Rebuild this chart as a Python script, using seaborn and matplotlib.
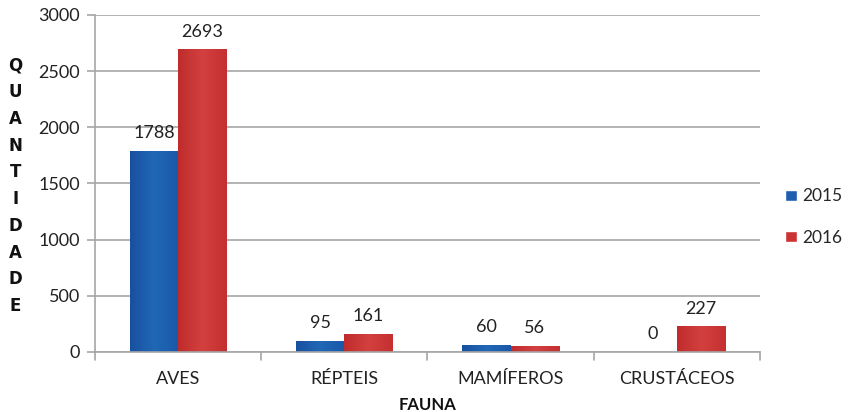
import numpy as np
import pandas as pd
import matplotlib
matplotlib.use("Agg")
import matplotlib.pyplot as plt
import seaborn as sns
from matplotlib.colors import LinearSegmentedColormap

categorias = ["AVES", "RÉPTEIS", "MAMÍFEROS", "CRUSTÁCEOS"]
anos = ["2015", "2016"]
valores_2015 = [1788, 95, 60, 0]
valores_2016 = [2693, 161, 56, 227]

df = pd.DataFrame({
    "Fauna": categorias * 2,
    "Ano": [anos[0]] * 4 + [anos[1]] * 4,
    "Quantidade": valores_2015 + valores_2016,
})

sns.set_theme(style="white")
plt.rcParams["font.family"] = ["Lato", "DejaVu Sans"]

cores = {"2015": "#1f5fb0", "2016": "#cc3333"}
grad = {
    "2015": ["#1850a0", "#2068b6", "#1a58a8"],
    "2016": ["#c02c2c", "#d24040", "#c4302f"],
}

fig = plt.figure(figsize=(8.49, 4.12), dpi=100)
ax = fig.add_axes([0.112, 0.146, 0.783, 0.818])

sns.barplot(data=df, x="Fauna", y="Quantidade", hue="Ano", palette=cores,
            width=0.58, ax=ax, legend=True, saturation=1)

ax.set_ylim(0, 3000)
ax.set_yticks(range(0, 3001, 500))
ax.yaxis.grid(True, color="#a6a6a6", linewidth=1.2)
ax.set_axisbelow(True)

# gradient fill for each bar
for cont, ano in zip(ax.containers, anos):
    cmap = LinearSegmentedColormap.from_list("g" + ano, grad[ano])
    for p in cont.patches:
        x0, y0 = p.get_x(), p.get_y()
        w, h = p.get_width(), p.get_height()
        if h <= 0:
            continue
        p.set_edgecolor("none")
        im = ax.imshow(np.linspace(0, 1, 64).reshape(1, -1), cmap=cmap,
                       extent=[x0, x0 + w, y0, y0 + h], aspect="auto",
                       zorder=p.get_zorder() + 0.1)
        im.set_clip_path(p)
    ax.bar_label(cont, padding=7, fontsize=13, color="#222222")

ax.set_xlim(-0.5, 3.5)
ax.set_ylim(0, 3000)

for s in ["top", "right"]:
    ax.spines[s].set_visible(False)
for s in ["left", "bottom"]:
    ax.spines[s].set_color("#a6a6a6")
    ax.spines[s].set_linewidth(1.2)

ax.tick_params(axis="y", length=6, color="#a6a6a6", width=1.2, pad=5,
               labelsize=13, labelcolor="#222222", direction="out", left=True)
ax.set_xticks(range(4))
ax.set_xticklabels(categorias)
ax.tick_params(axis="x", length=0, labelsize=13, labelcolor="#222222", pad=14)
# category separators on the x axis
for xb in [-0.5, 0.5, 1.5, 2.5, 3.5]:
    ax.plot([xb, xb], [0, -0.025], transform=ax.get_xaxis_transform(),
            color="#a6a6a6", linewidth=1.2, clip_on=False)

ax.set_xlabel("")
ax.set_ylabel("")
fig.text(0.504, 0.018, "FAUNA", fontsize=12, fontweight="bold",
         ha="center", va="center", color="#111111")
fig.text(0.018, 0.549, "\n".join("QUANTIDADE"), fontsize=12, fontweight="bold",
         ha="center", va="center", linespacing=1.62, color="#111111",
         family=["DejaVu Sans"])

leg = ax.legend(loc="center left", bbox_to_anchor=(1.02, 0.40), frameon=False,
                fontsize=12.5, handlelength=0.65, handleheight=0.65,
                labelspacing=1.45, handletextpad=0.35, borderaxespad=0.3)

fig.savefig("out.png", dpi=100)
